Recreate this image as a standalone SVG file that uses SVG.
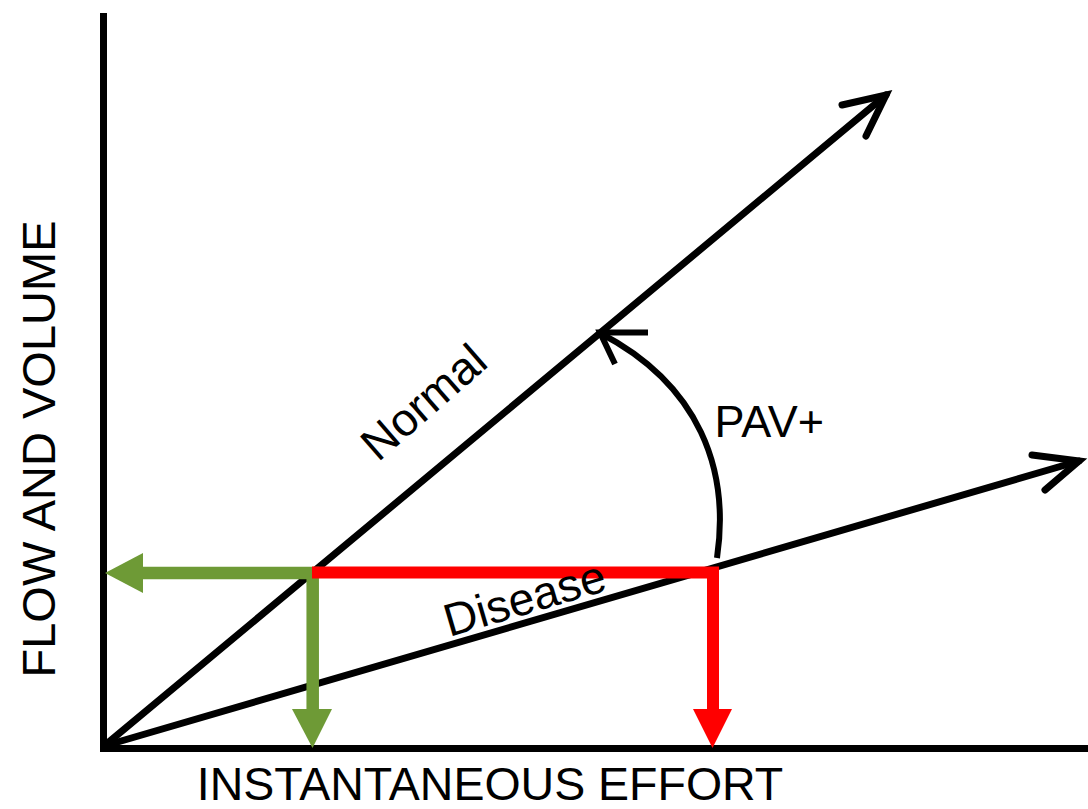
<svg xmlns="http://www.w3.org/2000/svg" width="1088" height="809" viewBox="0 0 1088 809">
<style>
.axis{stroke:#000;stroke-width:7;fill:none}
.ln{stroke:#000;stroke-width:7;fill:none;stroke-linecap:round}
.hd{stroke:#000;stroke-width:7;fill:none;stroke-linecap:round;stroke-linejoin:miter}
.arc{stroke:#000;stroke-width:6;fill:none}
.green{stroke:#6E9A36;stroke-width:12.5;fill:none;stroke-linejoin:miter}
.red{stroke:#FF0000;stroke-width:12;fill:none;stroke-linejoin:miter}
text{font-family:"Liberation Sans",Arial,sans-serif;fill:#000}
</style>
<rect width="1088" height="809" fill="#fff"/>
<g id="axes">
<path class="axis" d="M103.5,13 V748.5 H1088"/>
</g>
<g id="connectors">
<path id="normal-line" class="ln" d="M104,746 L886,95"/>
<path class="hd" d="M842,105 L886,95 L866,136"/>
<path id="disease-line" class="ln" d="M104,746 L1079,461"/>
<path class="hd" d="M1032,455 L1079,461 L1045,490"/>
<path id="pav-arc" class="arc" d="M717,558 C730,470 700,385 600,333"/>
<path class="arc" d="M648,332.5 L600,332.5 L615,364"/>
<path id="green-arrows" class="green" d="M140,573 L312.7,573 L312.7,712"/>
<polygon fill="#6E9A36" points="105,573 143,553 143,593"/>
<polygon fill="#6E9A36" points="292,709 332,709 312.5,748"/>
<path id="red-arrow" class="red" d="M312,572.5 L713,572.5 L713,712"/>
<polygon fill="#FF0000" points="693,709 732,709 712.5,748"/>
</g>
<g id="labels">
<text x="490" y="800" font-size="46.5" text-anchor="middle">INSTANTANEOUS EFFORT</text>
<text transform="translate(54.5,449) rotate(-90)" font-size="47" text-anchor="middle">FLOW AND VOLUME</text>
<text transform="translate(434,414) rotate(-41)" font-size="46" text-anchor="middle">Normal</text>
<text transform="translate(529,613.5) rotate(-16.4)" font-size="46" text-anchor="middle">Disease</text>
<text x="714.5" y="437" font-size="45">PAV+</text>
</g>
</svg>
